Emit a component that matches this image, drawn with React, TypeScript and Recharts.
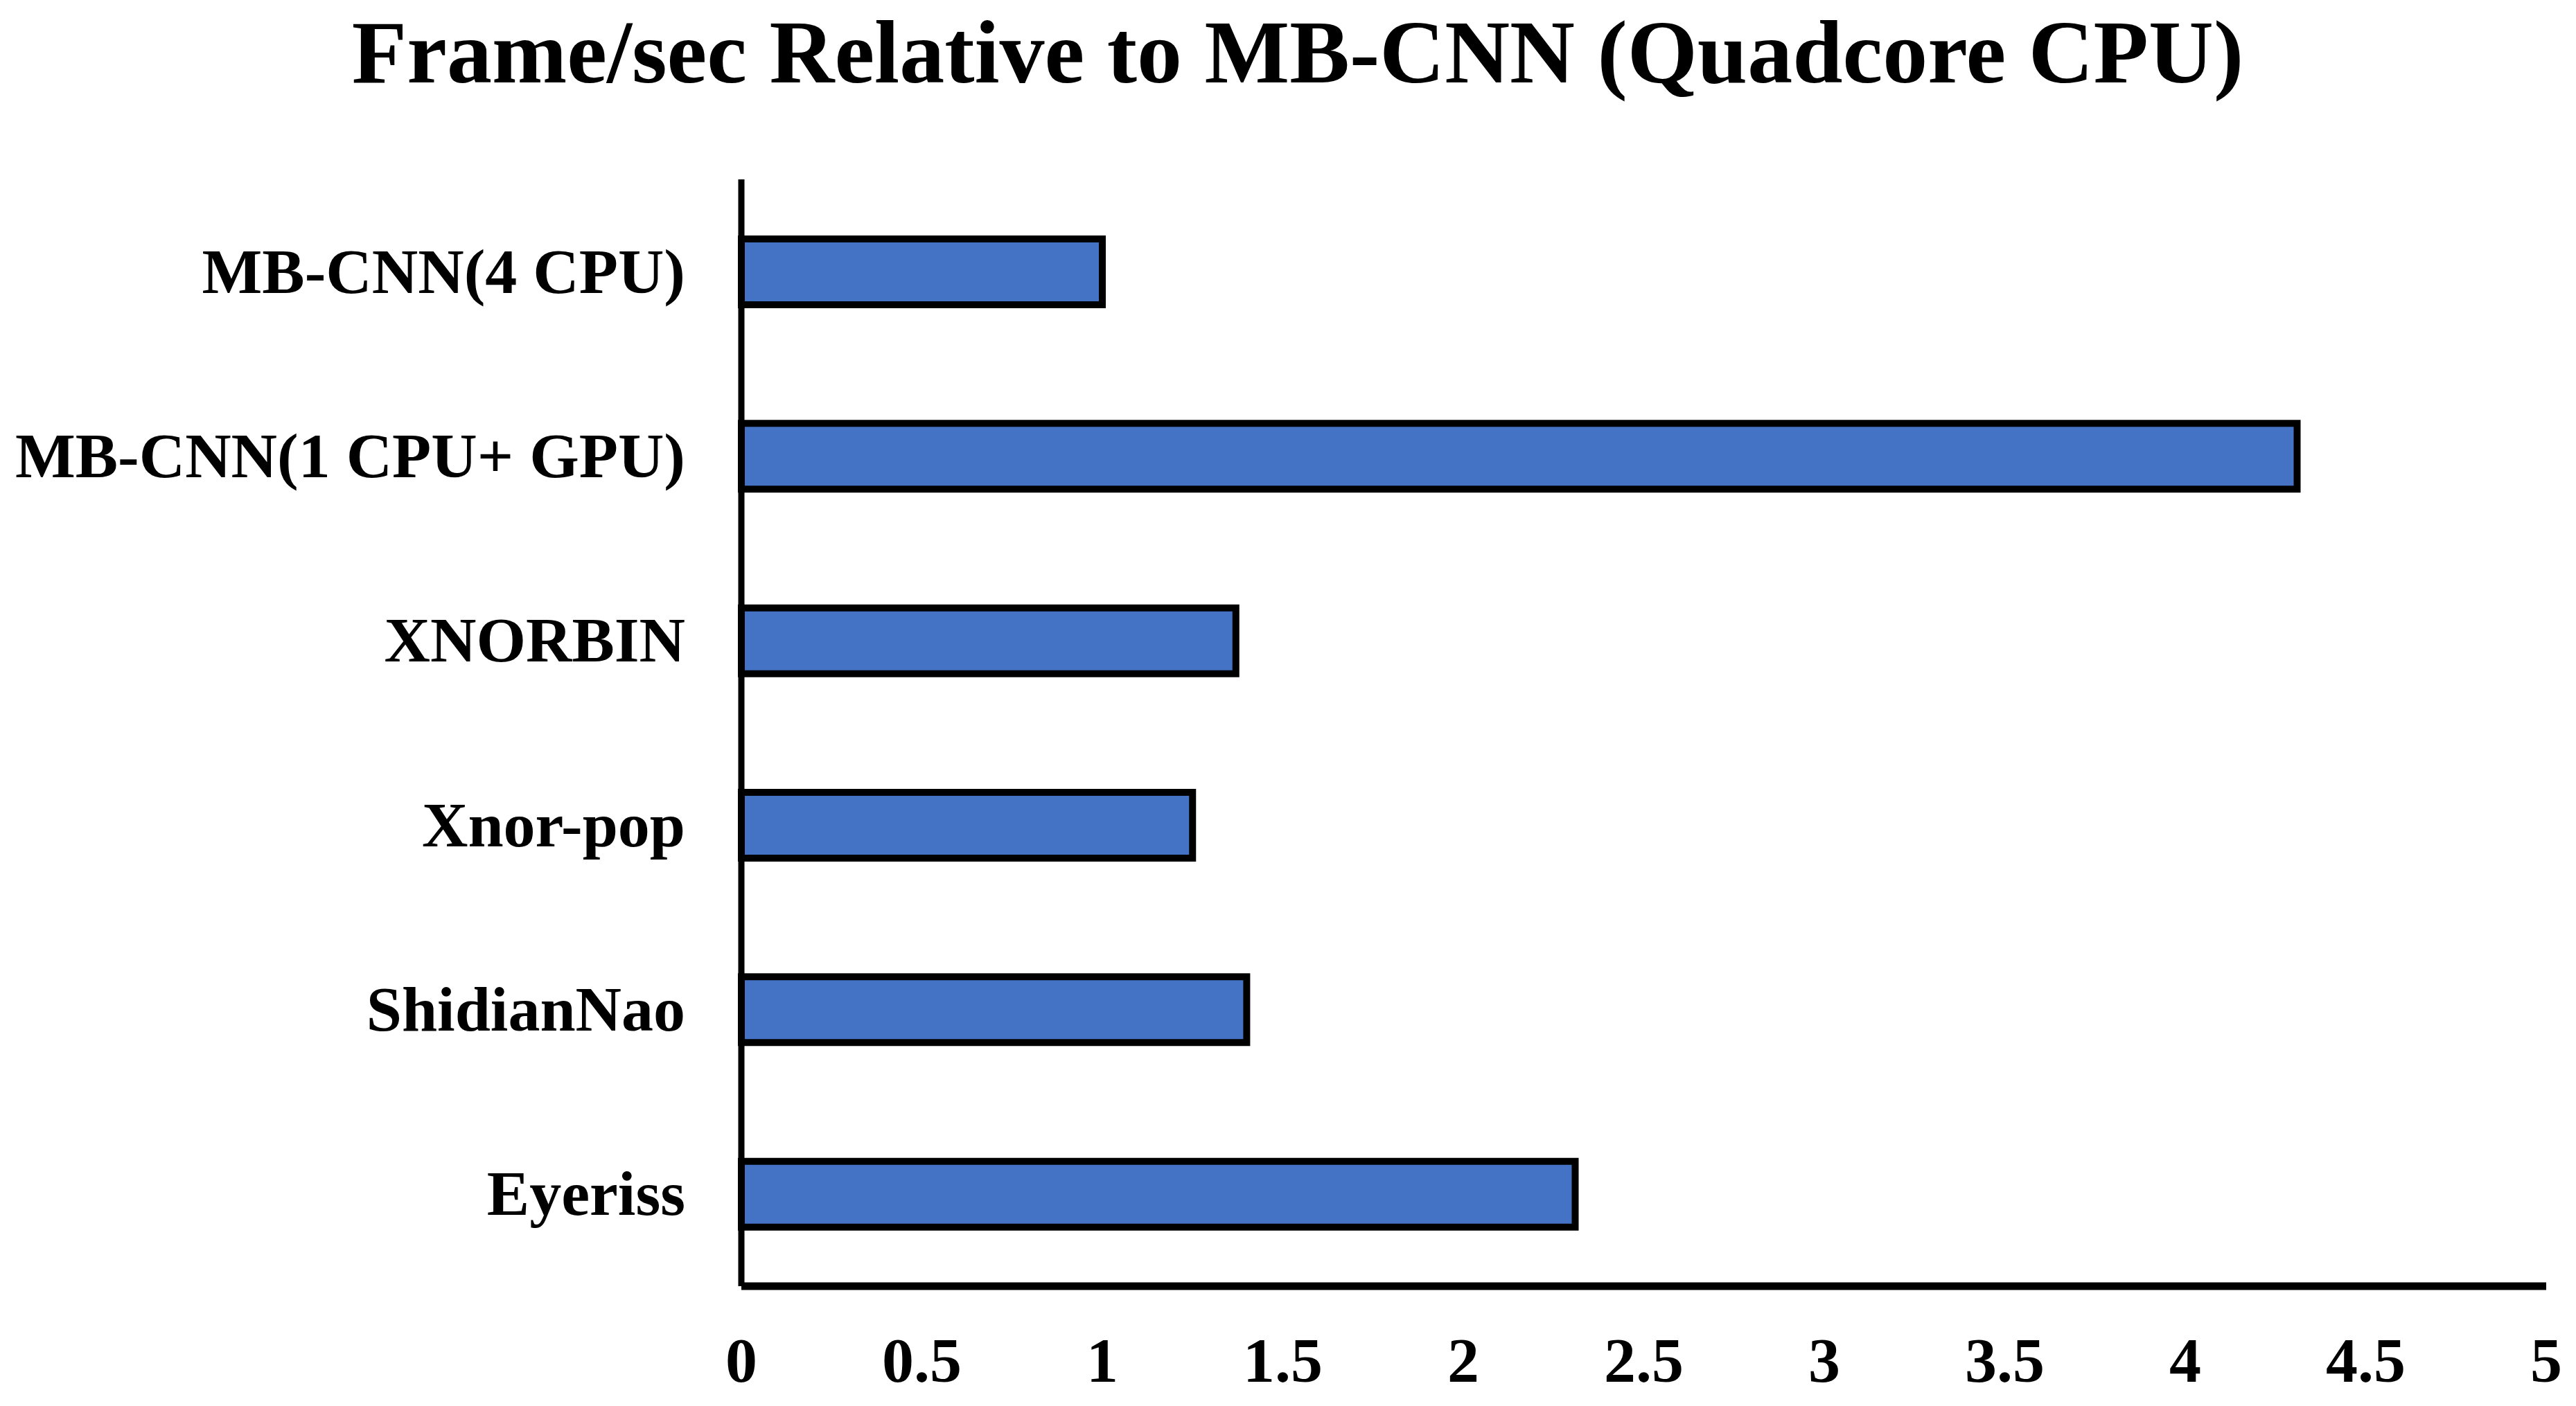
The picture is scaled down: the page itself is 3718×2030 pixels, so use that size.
import { BarChart, Bar, XAxis, YAxis } from 'recharts';

const categories = [
  'MB-CNN(4 CPU)',
  'MB-CNN(1 CPU+ GPU)',
  'XNORBIN',
  'Xnor-pop',
  'ShidianNao',
  'Eyeriss',
];
const relativeFps = [1.0, 4.31, 1.37, 1.25, 1.4, 2.31];
const xTicks = [0, 0.5, 1, 1.5, 2, 2.5, 3, 3.5, 4, 4.5, 5];

const FONT = '"Liberation Serif", "Times New Roman", serif';

const data = categories.map((name, i) => ({ name, value: relativeFps[i] }));

export default function App() {
  return (
    <div style={{ position: 'relative', width: 3718, height: 2030, background: '#fff', fontFamily: FONT }}>
      <style>{'body{margin:0}'}</style>
      <div
        style={{
          position: 'absolute',
          top: 10,
          left: 0,
          width: 3746,
          textAlign: 'center',
          fontSize: 130,
          lineHeight: '130px',
          fontWeight: 'bold',
          color: '#000',
        }}
      >
        Frame/sec Relative to MB-CNN (Quadcore CPU)
      </div>
      <BarChart
        width={3718}
        height={2030}
        data={data}
        layout="vertical"
        margin={{ top: 259, right: 43, bottom: 0, left: 0 }}
      >
        <XAxis
          type="number"
          domain={[0, 5]}
          ticks={xTicks}
          interval={0}
          height={173}
          tickLine={false}
          tickSize={0}
          tickMargin={73}
          axisLine={{ stroke: '#000', strokeWidth: 11 }}
          tick={{ fill: '#000', fontSize: 92, fontWeight: 'bold', fontFamily: FONT }}
        />
        <YAxis
          type="category"
          dataKey="name"
          width={1070}
          tickLine={false}
          tickSize={0}
          tickMargin={81}
          interval={0}
          axisLine={{ stroke: '#000', strokeWidth: 9 }}
          tick={{ fill: '#000', fontSize: 92, fontWeight: 'bold', fontFamily: FONT, dy: -2 }}
        />
        <Bar
          dataKey="value"
          fill="#4472C4"
          stroke="#000"
          strokeWidth={10}
          barSize={95}
          isAnimationActive={false}
        />
      </BarChart>
    </div>
  );
}
